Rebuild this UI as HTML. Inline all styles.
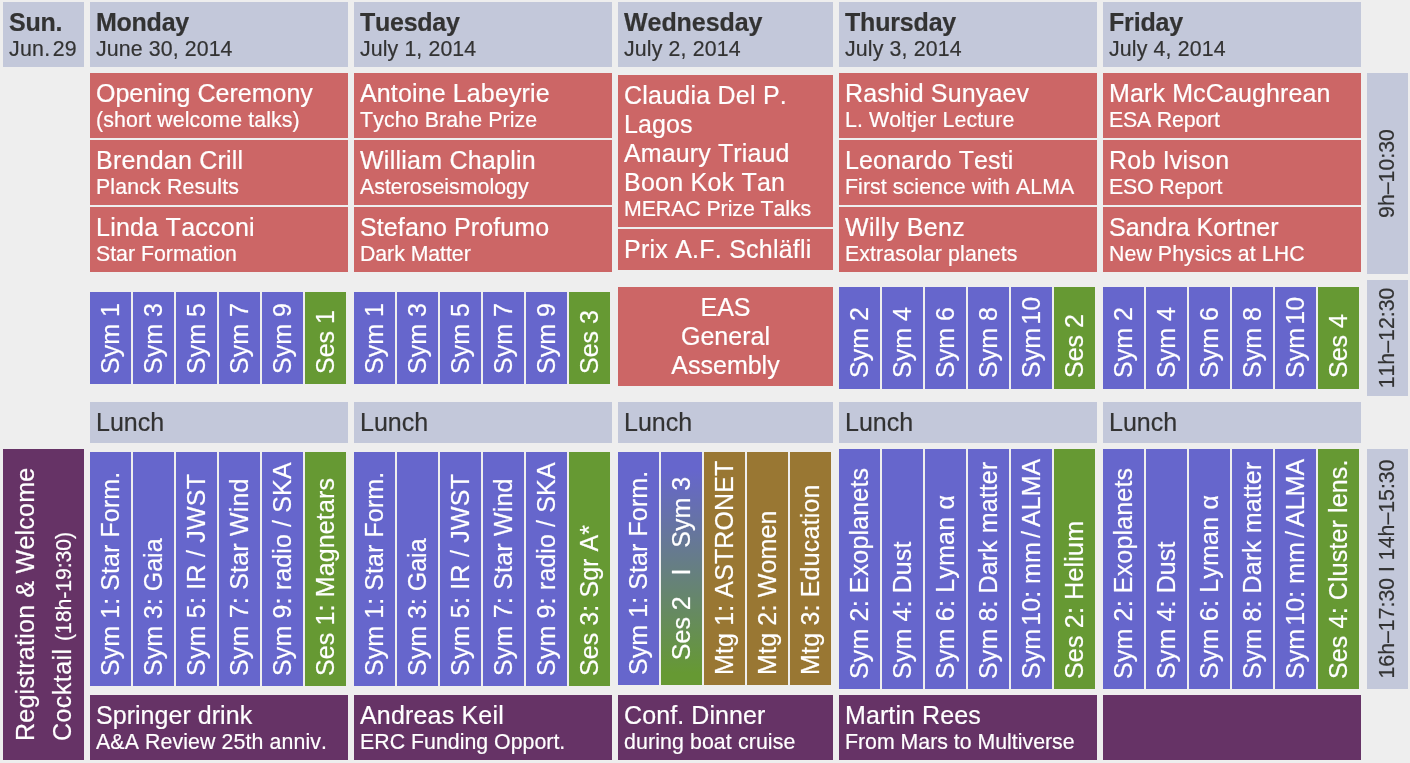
<!DOCTYPE html>
<html><head><meta charset="utf-8"><title>Programme</title>
<style>
html,body{margin:0;padding:0;}
body{width:1410px;height:763px;background:#EEEEEE;position:relative;overflow:hidden;font-family:"Liberation Sans",sans-serif;}
.b{position:absolute;}
.t{position:absolute;white-space:nowrap;font-kerning:none;-webkit-text-stroke:0.2px currentColor;}
#w{position:absolute;left:0;top:0;width:1410px;height:763px;overflow:hidden;will-change:transform;}
.v{transform-origin:0 0;}
.s1{word-spacing:-3.6px;}
.s2{word-spacing:-2.75px;}
</style></head><body><div id="w">
<div class="b" style="left:3px;top:2px;width:81px;height:65px;background:#C3C8DA;"></div>
<div class="t" style="left:9.00px;top:8px;font-size:25.0px;line-height:28px;color:#333333;letter-spacing:-0.25px;font-weight:bold;">Sun.</div>
<div class="t" style="left:9.00px;top:37px;font-size:21.3px;line-height:24px;color:#333333;letter-spacing:0.3px;word-spacing:-4.0px;">Jun. 29</div>
<div class="b" style="left:90px;top:2px;width:258px;height:65px;background:#C3C8DA;"></div>
<div class="t" style="left:96.00px;top:8px;font-size:25.0px;line-height:28px;color:#333333;letter-spacing:-0.25px;font-weight:bold;">Monday</div>
<div class="t" style="left:96.00px;top:37px;font-size:21.3px;line-height:24px;color:#333333;letter-spacing:0.12px;">June 30, 2014</div>
<div class="b" style="left:354px;top:2px;width:258px;height:65px;background:#C3C8DA;"></div>
<div class="t" style="left:360.00px;top:8px;font-size:25.0px;line-height:28px;color:#333333;letter-spacing:-0.25px;font-weight:bold;">Tuesday</div>
<div class="t" style="left:360.00px;top:37px;font-size:21.3px;line-height:24px;color:#333333;letter-spacing:0.12px;">July 1, 2014</div>
<div class="b" style="left:618px;top:2px;width:215px;height:65px;background:#C3C8DA;"></div>
<div class="t" style="left:624.00px;top:8px;font-size:25.0px;line-height:28px;color:#333333;letter-spacing:-0.06px;font-weight:bold;">Wednesday</div>
<div class="t" style="left:624.00px;top:37px;font-size:21.3px;line-height:24px;color:#333333;letter-spacing:0.15px;">July 2, 2014</div>
<div class="b" style="left:839px;top:2px;width:258px;height:65px;background:#C3C8DA;"></div>
<div class="t" style="left:845.00px;top:8px;font-size:25.0px;line-height:28px;color:#333333;letter-spacing:-0.18px;font-weight:bold;">Thursday</div>
<div class="t" style="left:845.00px;top:37px;font-size:21.3px;line-height:24px;color:#333333;letter-spacing:0.15px;">July 3, 2014</div>
<div class="b" style="left:1103px;top:2px;width:258px;height:65px;background:#C3C8DA;"></div>
<div class="t" style="left:1109.00px;top:8px;font-size:25.0px;line-height:28px;color:#333333;letter-spacing:-0.15px;font-weight:bold;">Friday</div>
<div class="t" style="left:1109.00px;top:37px;font-size:21.3px;line-height:24px;color:#333333;letter-spacing:0.15px;">July 4, 2014</div>
<div class="b" style="left:90px;top:73px;width:258px;height:65px;background:#CC6666;"></div>
<div class="t" style="left:96.00px;top:79px;font-size:25.0px;line-height:28px;color:#fff;letter-spacing:0px;">Opening Ceremony</div>
<div class="t" style="left:96.00px;top:108px;font-size:21.3px;line-height:24px;color:#fff;letter-spacing:0.125px;">(short welcome talks)</div>
<div class="b" style="left:90px;top:140px;width:258px;height:65px;background:#CC6666;"></div>
<div class="t" style="left:96.00px;top:146px;font-size:25.0px;line-height:28px;color:#fff;letter-spacing:0.21px;">Brendan Crill</div>
<div class="t" style="left:96.00px;top:175px;font-size:21.3px;line-height:24px;color:#fff;letter-spacing:0.154px;">Planck Results</div>
<div class="b" style="left:90px;top:207px;width:258px;height:65px;background:#CC6666;"></div>
<div class="t" style="left:96.00px;top:213px;font-size:25.0px;line-height:28px;color:#fff;letter-spacing:0.25px;">Linda Tacconi</div>
<div class="t" style="left:96.00px;top:242px;font-size:21.3px;line-height:24px;color:#fff;letter-spacing:0.0px;">Star Formation</div>
<div class="b" style="left:354px;top:73px;width:258px;height:65px;background:#CC6666;"></div>
<div class="t" style="left:360.00px;top:79px;font-size:25.0px;line-height:28px;color:#fff;letter-spacing:0.13px;">Antoine Labeyrie</div>
<div class="t" style="left:360.00px;top:108px;font-size:21.3px;line-height:24px;color:#fff;letter-spacing:0.125px;">Tycho Brahe Prize</div>
<div class="b" style="left:354px;top:140px;width:258px;height:65px;background:#CC6666;"></div>
<div class="t" style="left:360.00px;top:146px;font-size:25.0px;line-height:28px;color:#fff;letter-spacing:0.24px;">William Chaplin</div>
<div class="t" style="left:360.00px;top:175px;font-size:21.3px;line-height:24px;color:#fff;letter-spacing:0.033px;">Asteroseismology</div>
<div class="b" style="left:354px;top:207px;width:258px;height:65px;background:#CC6666;"></div>
<div class="t" style="left:360.00px;top:213px;font-size:25.0px;line-height:28px;color:#fff;letter-spacing:0.11px;">Stefano Profumo</div>
<div class="t" style="left:360.00px;top:242px;font-size:21.3px;line-height:24px;color:#fff;letter-spacing:-0.05px;">Dark Matter</div>
<div class="b" style="left:839px;top:73px;width:258px;height:65px;background:#CC6666;"></div>
<div class="t" style="left:845.00px;top:79px;font-size:25.0px;line-height:28px;color:#fff;letter-spacing:0.15px;">Rashid Sunyaev</div>
<div class="t" style="left:845.00px;top:108px;font-size:21.3px;line-height:24px;color:#fff;letter-spacing:0.147px;">L. Woltjer Lecture</div>
<div class="b" style="left:839px;top:140px;width:258px;height:65px;background:#CC6666;"></div>
<div class="t" style="left:845.00px;top:146px;font-size:25.0px;line-height:28px;color:#fff;letter-spacing:0.12px;">Leonardo Testi</div>
<div class="t" style="left:845.00px;top:175px;font-size:21.3px;line-height:24px;color:#fff;letter-spacing:0.09px;">First science with ALMA</div>
<div class="b" style="left:839px;top:207px;width:258px;height:65px;background:#CC6666;"></div>
<div class="t" style="left:845.00px;top:213px;font-size:25.0px;line-height:28px;color:#fff;letter-spacing:0.33px;">Willy Benz</div>
<div class="t" style="left:845.00px;top:242px;font-size:21.3px;line-height:24px;color:#fff;letter-spacing:0.118px;">Extrasolar planets</div>
<div class="b" style="left:1103px;top:73px;width:258px;height:65px;background:#CC6666;"></div>
<div class="t" style="left:1109.00px;top:79px;font-size:25.0px;line-height:28px;color:#fff;letter-spacing:0.13px;">Mark McCaughrean</div>
<div class="t" style="left:1109.00px;top:108px;font-size:21.3px;line-height:24px;color:#fff;letter-spacing:-0.167px;">ESA Report</div>
<div class="b" style="left:1103px;top:140px;width:258px;height:65px;background:#CC6666;"></div>
<div class="t" style="left:1109.00px;top:146px;font-size:25.0px;line-height:28px;color:#fff;letter-spacing:0.22px;">Rob Ivison</div>
<div class="t" style="left:1109.00px;top:175px;font-size:21.3px;line-height:24px;color:#fff;letter-spacing:-0.167px;">ESO Report</div>
<div class="b" style="left:1103px;top:207px;width:258px;height:65px;background:#CC6666;"></div>
<div class="t" style="left:1109.00px;top:213px;font-size:25.0px;line-height:28px;color:#fff;letter-spacing:0px;">Sandra Kortner</div>
<div class="t" style="left:1109.00px;top:242px;font-size:21.3px;line-height:24px;color:#fff;letter-spacing:0.088px;">New Physics at LHC</div>
<div class="b" style="left:618px;top:75px;width:215px;height:152px;background:#CC6666;"></div>
<div class="t" style="left:624.00px;top:81px;font-size:25.0px;line-height:28px;color:#fff;letter-spacing:0.23px;">Claudia Del P.</div>
<div class="t" style="left:624.00px;top:110px;font-size:25.0px;line-height:28px;color:#fff;letter-spacing:0.1px;">Lagos</div>
<div class="t" style="left:624.00px;top:139px;font-size:25.0px;line-height:28px;color:#fff;letter-spacing:0.12px;">Amaury Triaud</div>
<div class="t" style="left:624.00px;top:168px;font-size:25.0px;line-height:28px;color:#fff;letter-spacing:0.23px;">Boon Kok Tan</div>
<div class="t" style="left:624.00px;top:197px;font-size:21.3px;line-height:24px;color:#fff;letter-spacing:-0.06px;">MERAC Prize Talks</div>
<div class="b" style="left:618px;top:229px;width:215px;height:41px;background:#CC6666;"></div>
<div class="t" style="left:624.00px;top:235px;font-size:25.0px;line-height:28px;color:#fff;letter-spacing:0.235px;">Prix A.F. Schl&auml;fli</div>
<div class="b" style="left:618px;top:287px;width:215px;height:99px;background:#CC6666;"></div>
<div class="t" style="left:618px;width:215px;text-align:center;top:293px;font-size:25.0px;line-height:28px;color:#fff">EAS</div>
<div class="t" style="left:618px;width:215px;text-align:center;top:322px;font-size:25.0px;line-height:28px;color:#fff">General</div>
<div class="t" style="left:618px;width:215px;text-align:center;top:351px;font-size:25.0px;line-height:28px;color:#fff">Assembly</div>
<div class="b" style="left:1367px;top:73px;width:41px;height:201px;background:#C3C8DA;"></div>
<div class="t v" style="left:1394.30px;top:274.00px;width:201px;text-align:center;font-size:21.3px;line-height:24px;color:#333333;letter-spacing:0.0px;transform:rotate(-90deg) translateY(-19px);">9h&ndash;10:30</div>
<div class="b" style="left:1367px;top:280px;width:41px;height:116px;background:#C3C8DA;"></div>
<div class="t v" style="left:1394.30px;top:396.00px;width:116px;text-align:center;font-size:21.3px;line-height:24px;color:#333333;letter-spacing:0.0px;transform:rotate(-90deg) translateY(-19px);">11h&ndash;12:30</div>
<div class="b" style="left:1367px;top:449px;width:41px;height:240px;background:#C3C8DA;"></div>
<div class="t v" style="left:1394.30px;top:689.00px;width:240px;text-align:center;font-size:21.3px;line-height:24px;color:#333333;letter-spacing:0.0px;transform:rotate(-90deg) translateY(-19px);">16h&ndash;17:30 I 14h&ndash;15:30</div>
<div class="b" style="left:90px;top:292px;width:41px;height:92px;background:#6666CC;"></div>
<div class="t v" style="left:119.45px;top:374.00px;font-size:25.0px;line-height:28px;color:#fff;transform:rotate(-90deg) translateY(-23px);">Sym 1</div>
<div class="b" style="left:133px;top:292px;width:41px;height:92px;background:#6666CC;"></div>
<div class="t v" style="left:162.45px;top:374.00px;font-size:25.0px;line-height:28px;color:#fff;transform:rotate(-90deg) translateY(-23px);">Sym 3</div>
<div class="b" style="left:176px;top:292px;width:41px;height:92px;background:#6666CC;"></div>
<div class="t v" style="left:205.45px;top:374.00px;font-size:25.0px;line-height:28px;color:#fff;transform:rotate(-90deg) translateY(-23px);">Sym 5</div>
<div class="b" style="left:219px;top:292px;width:41px;height:92px;background:#6666CC;"></div>
<div class="t v" style="left:248.45px;top:374.00px;font-size:25.0px;line-height:28px;color:#fff;transform:rotate(-90deg) translateY(-23px);">Sym 7</div>
<div class="b" style="left:262px;top:292px;width:41px;height:92px;background:#6666CC;"></div>
<div class="t v" style="left:291.45px;top:374.00px;font-size:25.0px;line-height:28px;color:#fff;transform:rotate(-90deg) translateY(-23px);">Sym 9</div>
<div class="b" style="left:305px;top:292px;width:41px;height:92px;background:#669933;"></div>
<div class="t v" style="left:334.45px;top:374.00px;font-size:25.0px;line-height:28px;color:#fff;transform:rotate(-90deg) translateY(-23px);">Ses 1</div>
<div class="b" style="left:354px;top:292px;width:41px;height:92px;background:#6666CC;"></div>
<div class="t v" style="left:383.45px;top:374.00px;font-size:25.0px;line-height:28px;color:#fff;transform:rotate(-90deg) translateY(-23px);">Sym 1</div>
<div class="b" style="left:397px;top:292px;width:41px;height:92px;background:#6666CC;"></div>
<div class="t v" style="left:426.45px;top:374.00px;font-size:25.0px;line-height:28px;color:#fff;transform:rotate(-90deg) translateY(-23px);">Sym 3</div>
<div class="b" style="left:440px;top:292px;width:41px;height:92px;background:#6666CC;"></div>
<div class="t v" style="left:469.45px;top:374.00px;font-size:25.0px;line-height:28px;color:#fff;transform:rotate(-90deg) translateY(-23px);">Sym 5</div>
<div class="b" style="left:483px;top:292px;width:41px;height:92px;background:#6666CC;"></div>
<div class="t v" style="left:512.45px;top:374.00px;font-size:25.0px;line-height:28px;color:#fff;transform:rotate(-90deg) translateY(-23px);">Sym 7</div>
<div class="b" style="left:526px;top:292px;width:41px;height:92px;background:#6666CC;"></div>
<div class="t v" style="left:555.45px;top:374.00px;font-size:25.0px;line-height:28px;color:#fff;transform:rotate(-90deg) translateY(-23px);">Sym 9</div>
<div class="b" style="left:569px;top:292px;width:41px;height:92px;background:#669933;"></div>
<div class="t v" style="left:598.45px;top:374.00px;font-size:25.0px;line-height:28px;color:#fff;transform:rotate(-90deg) translateY(-23px);">Ses 3</div>
<div class="b" style="left:839px;top:287px;width:41px;height:102px;background:#6666CC;"></div>
<div class="t v" style="left:868.45px;top:378.00px;font-size:25.0px;line-height:28px;color:#fff;transform:rotate(-90deg) translateY(-23px);">Sym 2</div>
<div class="b" style="left:882px;top:287px;width:41px;height:102px;background:#6666CC;"></div>
<div class="t v" style="left:911.45px;top:378.00px;font-size:25.0px;line-height:28px;color:#fff;transform:rotate(-90deg) translateY(-23px);">Sym 4</div>
<div class="b" style="left:925px;top:287px;width:41px;height:102px;background:#6666CC;"></div>
<div class="t v" style="left:954.45px;top:378.00px;font-size:25.0px;line-height:28px;color:#fff;transform:rotate(-90deg) translateY(-23px);">Sym 6</div>
<div class="b" style="left:968px;top:287px;width:41px;height:102px;background:#6666CC;"></div>
<div class="t v" style="left:997.45px;top:378.00px;font-size:25.0px;line-height:28px;color:#fff;transform:rotate(-90deg) translateY(-23px);">Sym 8</div>
<div class="b" style="left:1011px;top:287px;width:41px;height:102px;background:#6666CC;"></div>
<div class="t v" style="left:1040.45px;top:378.00px;font-size:25.0px;line-height:28px;color:#fff;transform:rotate(-90deg) translateY(-23px);">Sym<span class="s1"> </span>10</div>
<div class="b" style="left:1054px;top:287px;width:41px;height:102px;background:#669933;"></div>
<div class="t v" style="left:1083.45px;top:378.00px;font-size:25.0px;line-height:28px;color:#fff;transform:rotate(-90deg) translateY(-23px);">Ses 2</div>
<div class="b" style="left:1103px;top:287px;width:41px;height:102px;background:#6666CC;"></div>
<div class="t v" style="left:1132.45px;top:378.00px;font-size:25.0px;line-height:28px;color:#fff;transform:rotate(-90deg) translateY(-23px);">Sym 2</div>
<div class="b" style="left:1146px;top:287px;width:41px;height:102px;background:#6666CC;"></div>
<div class="t v" style="left:1175.45px;top:378.00px;font-size:25.0px;line-height:28px;color:#fff;transform:rotate(-90deg) translateY(-23px);">Sym 4</div>
<div class="b" style="left:1189px;top:287px;width:41px;height:102px;background:#6666CC;"></div>
<div class="t v" style="left:1218.45px;top:378.00px;font-size:25.0px;line-height:28px;color:#fff;transform:rotate(-90deg) translateY(-23px);">Sym 6</div>
<div class="b" style="left:1232px;top:287px;width:41px;height:102px;background:#6666CC;"></div>
<div class="t v" style="left:1261.45px;top:378.00px;font-size:25.0px;line-height:28px;color:#fff;transform:rotate(-90deg) translateY(-23px);">Sym 8</div>
<div class="b" style="left:1275px;top:287px;width:41px;height:102px;background:#6666CC;"></div>
<div class="t v" style="left:1304.45px;top:378.00px;font-size:25.0px;line-height:28px;color:#fff;transform:rotate(-90deg) translateY(-23px);">Sym<span class="s1"> </span>10</div>
<div class="b" style="left:1318px;top:287px;width:41px;height:102px;background:#669933;"></div>
<div class="t v" style="left:1347.45px;top:378.00px;font-size:25.0px;line-height:28px;color:#fff;transform:rotate(-90deg) translateY(-23px);">Ses 4</div>
<div class="b" style="left:90px;top:402px;width:258px;height:41px;background:#C3C8DA;"></div>
<div class="t" style="left:96.00px;top:408px;font-size:25.0px;line-height:28px;color:#333333;">Lunch</div>
<div class="b" style="left:354px;top:402px;width:258px;height:41px;background:#C3C8DA;"></div>
<div class="t" style="left:360.00px;top:408px;font-size:25.0px;line-height:28px;color:#333333;">Lunch</div>
<div class="b" style="left:618px;top:402px;width:215px;height:41px;background:#C3C8DA;"></div>
<div class="t" style="left:624.00px;top:408px;font-size:25.0px;line-height:28px;color:#333333;">Lunch</div>
<div class="b" style="left:839px;top:402px;width:258px;height:41px;background:#C3C8DA;"></div>
<div class="t" style="left:845.00px;top:408px;font-size:25.0px;line-height:28px;color:#333333;">Lunch</div>
<div class="b" style="left:1103px;top:402px;width:258px;height:41px;background:#C3C8DA;"></div>
<div class="t" style="left:1109.00px;top:408px;font-size:25.0px;line-height:28px;color:#333333;">Lunch</div>
<div class="b" style="left:90px;top:452px;width:41px;height:234px;background:#6666CC;"></div>
<div class="t v" style="left:119.45px;top:676.00px;font-size:25.0px;line-height:28px;color:#fff;letter-spacing:0.08px;transform:rotate(-90deg) translateY(-23px);">Sym 1: Star Form.</div>
<div class="b" style="left:133px;top:452px;width:41px;height:234px;background:#6666CC;"></div>
<div class="t v" style="left:162.45px;top:676.00px;font-size:25.0px;line-height:28px;color:#fff;transform:rotate(-90deg) translateY(-23px);">Sym 3: Gaia</div>
<div class="b" style="left:176px;top:452px;width:41px;height:234px;background:#6666CC;"></div>
<div class="t v" style="left:205.45px;top:676.00px;font-size:25.0px;line-height:28px;color:#fff;letter-spacing:0.22px;transform:rotate(-90deg) translateY(-23px);">Sym 5: IR / JWST</div>
<div class="b" style="left:219px;top:452px;width:41px;height:234px;background:#6666CC;"></div>
<div class="t v" style="left:248.45px;top:676.00px;font-size:25.0px;line-height:28px;color:#fff;letter-spacing:0.2px;transform:rotate(-90deg) translateY(-23px);">Sym 7: Star Wind</div>
<div class="b" style="left:262px;top:452px;width:41px;height:234px;background:#6666CC;"></div>
<div class="t v" style="left:291.45px;top:676.00px;font-size:25.0px;line-height:28px;color:#fff;letter-spacing:0.14px;transform:rotate(-90deg) translateY(-23px);">Sym 9: radio / SKA</div>
<div class="b" style="left:305px;top:452px;width:41px;height:234px;background:#669933;"></div>
<div class="t v" style="left:334.45px;top:676.00px;font-size:25.0px;line-height:28px;color:#fff;letter-spacing:0.13px;transform:rotate(-90deg) translateY(-23px);">Ses 1: Magnetars</div>
<div class="b" style="left:354px;top:452px;width:41px;height:234px;background:#6666CC;"></div>
<div class="t v" style="left:383.45px;top:676.00px;font-size:25.0px;line-height:28px;color:#fff;letter-spacing:0.08px;transform:rotate(-90deg) translateY(-23px);">Sym 1: Star Form.</div>
<div class="b" style="left:397px;top:452px;width:41px;height:234px;background:#6666CC;"></div>
<div class="t v" style="left:426.45px;top:676.00px;font-size:25.0px;line-height:28px;color:#fff;transform:rotate(-90deg) translateY(-23px);">Sym 3: Gaia</div>
<div class="b" style="left:440px;top:452px;width:41px;height:234px;background:#6666CC;"></div>
<div class="t v" style="left:469.45px;top:676.00px;font-size:25.0px;line-height:28px;color:#fff;letter-spacing:0.22px;transform:rotate(-90deg) translateY(-23px);">Sym 5: IR / JWST</div>
<div class="b" style="left:483px;top:452px;width:41px;height:234px;background:#6666CC;"></div>
<div class="t v" style="left:512.45px;top:676.00px;font-size:25.0px;line-height:28px;color:#fff;letter-spacing:0.2px;transform:rotate(-90deg) translateY(-23px);">Sym 7: Star Wind</div>
<div class="b" style="left:526px;top:452px;width:41px;height:234px;background:#6666CC;"></div>
<div class="t v" style="left:555.45px;top:676.00px;font-size:25.0px;line-height:28px;color:#fff;letter-spacing:0.14px;transform:rotate(-90deg) translateY(-23px);">Sym 9: radio / SKA</div>
<div class="b" style="left:569px;top:452px;width:41px;height:234px;background:#669933;"></div>
<div class="t v" style="left:598.45px;top:676.00px;font-size:25.0px;line-height:28px;color:#fff;letter-spacing:0.08px;transform:rotate(-90deg) translateY(-23px);">Ses 3: Sgr A*</div>
<div class="b" style="left:839px;top:449px;width:41px;height:240px;background:#6666CC;"></div>
<div class="t v" style="left:868.45px;top:679.00px;font-size:25.0px;line-height:28px;color:#fff;letter-spacing:0.16px;transform:rotate(-90deg) translateY(-23px);">Sym 2: Exoplanets</div>
<div class="b" style="left:882px;top:449px;width:41px;height:240px;background:#6666CC;"></div>
<div class="t v" style="left:911.45px;top:679.00px;font-size:25.0px;line-height:28px;color:#fff;letter-spacing:0.13px;transform:rotate(-90deg) translateY(-23px);">Sym 4: Dust</div>
<div class="b" style="left:925px;top:449px;width:41px;height:240px;background:#6666CC;"></div>
<div class="t v" style="left:954.45px;top:679.00px;font-size:25.0px;line-height:28px;color:#fff;letter-spacing:0.21px;transform:rotate(-90deg) translateY(-23px);">Sym 6: Lyman &alpha;</div>
<div class="b" style="left:968px;top:449px;width:41px;height:240px;background:#6666CC;"></div>
<div class="t v" style="left:997.45px;top:679.00px;font-size:25.0px;line-height:28px;color:#fff;letter-spacing:0.11px;transform:rotate(-90deg) translateY(-23px);">Sym 8: Dark matter</div>
<div class="b" style="left:1011px;top:449px;width:41px;height:240px;background:#6666CC;"></div>
<div class="t v" style="left:1040.45px;top:679.00px;font-size:25.0px;line-height:28px;color:#fff;transform:rotate(-90deg) translateY(-23px);">Sym<span class="s1"> </span>10: mm<span class="s2"> </span>/<span class="s2"> </span>ALMA</div>
<div class="b" style="left:1054px;top:449px;width:41px;height:240px;background:#669933;"></div>
<div class="t v" style="left:1083.45px;top:679.00px;font-size:25.0px;line-height:28px;color:#fff;letter-spacing:0.2px;transform:rotate(-90deg) translateY(-23px);">Ses 2: Helium</div>
<div class="b" style="left:1103px;top:449px;width:41px;height:240px;background:#6666CC;"></div>
<div class="t v" style="left:1132.45px;top:679.00px;font-size:25.0px;line-height:28px;color:#fff;letter-spacing:0.16px;transform:rotate(-90deg) translateY(-23px);">Sym 2: Exoplanets</div>
<div class="b" style="left:1146px;top:449px;width:41px;height:240px;background:#6666CC;"></div>
<div class="t v" style="left:1175.45px;top:679.00px;font-size:25.0px;line-height:28px;color:#fff;letter-spacing:0.13px;transform:rotate(-90deg) translateY(-23px);">Sym 4: Dust</div>
<div class="b" style="left:1189px;top:449px;width:41px;height:240px;background:#6666CC;"></div>
<div class="t v" style="left:1218.45px;top:679.00px;font-size:25.0px;line-height:28px;color:#fff;letter-spacing:0.21px;transform:rotate(-90deg) translateY(-23px);">Sym 6: Lyman &alpha;</div>
<div class="b" style="left:1232px;top:449px;width:41px;height:240px;background:#6666CC;"></div>
<div class="t v" style="left:1261.45px;top:679.00px;font-size:25.0px;line-height:28px;color:#fff;letter-spacing:0.11px;transform:rotate(-90deg) translateY(-23px);">Sym 8: Dark matter</div>
<div class="b" style="left:1275px;top:449px;width:41px;height:240px;background:#6666CC;"></div>
<div class="t v" style="left:1304.45px;top:679.00px;font-size:25.0px;line-height:28px;color:#fff;transform:rotate(-90deg) translateY(-23px);">Sym<span class="s1"> </span>10: mm<span class="s2"> </span>/<span class="s2"> </span>ALMA</div>
<div class="b" style="left:1318px;top:449px;width:41px;height:240px;background:#669933;"></div>
<div class="t v" style="left:1347.45px;top:679.00px;font-size:25.0px;line-height:28px;color:#fff;letter-spacing:0.14px;transform:rotate(-90deg) translateY(-23px);">Ses 4: Cluster lens.</div>
<div class="b" style="left:618px;top:452px;width:41px;height:233px;background:#6666CC;"></div>
<div class="t v" style="left:647.45px;top:675.00px;font-size:25.0px;line-height:28px;color:#fff;letter-spacing:0.08px;transform:rotate(-90deg) translateY(-23px);">Sym 1: Star Form.</div>
<div class="b" style="left:661px;top:452px;width:41px;height:233px;background:#6666CC;background:linear-gradient(to bottom,#6666CC 8%,#669933 95%);"></div>
<div class="t v" style="left:690.45px;top:685.00px;width:233px;text-align:center;font-size:25.0px;line-height:28px;color:#fff;transform:rotate(-90deg) translateY(-23px);white-space:pre;">Ses 2   I   Sym 3</div>
<div class="b" style="left:704px;top:452px;width:41px;height:233px;background:#997733;"></div>
<div class="t v" style="left:733.45px;top:675.00px;font-size:25.0px;line-height:28px;color:#fff;letter-spacing:0.13px;transform:rotate(-90deg) translateY(-23px);">Mtg 1: ASTRONET</div>
<div class="b" style="left:747px;top:452px;width:41px;height:233px;background:#997733;"></div>
<div class="t v" style="left:776.45px;top:675.00px;font-size:25.0px;line-height:28px;color:#fff;letter-spacing:0.18px;transform:rotate(-90deg) translateY(-23px);">Mtg 2: Women</div>
<div class="b" style="left:790px;top:452px;width:41px;height:233px;background:#997733;"></div>
<div class="t v" style="left:819.45px;top:675.00px;font-size:25.0px;line-height:28px;color:#fff;letter-spacing:0.19px;transform:rotate(-90deg) translateY(-23px);">Mtg 3: Education</div>
<div class="b" style="left:3px;top:449px;width:81px;height:311px;background:#663366;"></div>
<div class="t v" style="left:33.50px;top:740.60px;font-size:25.0px;line-height:28px;color:#fff;letter-spacing:0.24px;transform:rotate(-90deg) translateY(-23px);">Registration &amp; Welcome</div>
<div class="t v" style="left:71.00px;top:740.60px;font-size:25.0px;line-height:28px;color:#fff;transform:rotate(-90deg) translateY(-23px);letter-spacing:.45px;">Cocktail <span style="font-size:21.3px;letter-spacing:-0.1px">(18h-19:30)</span></div>
<div class="b" style="left:90px;top:695px;width:258px;height:65px;background:#663366;"></div>
<div class="t" style="left:96.00px;top:701px;font-size:25.0px;line-height:28px;color:#fff;letter-spacing:0.04px;">Springer drink</div>
<div class="t" style="left:96.00px;top:730px;font-size:21.3px;line-height:24px;color:#fff;letter-spacing:0.119px;">A&amp;A Review 25th anniv.</div>
<div class="b" style="left:354px;top:695px;width:258px;height:65px;background:#663366;"></div>
<div class="t" style="left:360.00px;top:701px;font-size:25.0px;line-height:28px;color:#fff;letter-spacing:0.18px;">Andreas Keil</div>
<div class="t" style="left:360.00px;top:730px;font-size:21.3px;line-height:24px;color:#fff;letter-spacing:0.028px;">ERC Funding Opport.</div>
<div class="b" style="left:618px;top:695px;width:215px;height:65px;background:#663366;"></div>
<div class="t" style="left:624.00px;top:701px;font-size:25.0px;line-height:28px;color:#fff;letter-spacing:0.09px;">Conf. Dinner</div>
<div class="t" style="left:624.00px;top:730px;font-size:21.3px;line-height:24px;color:#fff;letter-spacing:0.118px;">during boat cruise</div>
<div class="b" style="left:839px;top:695px;width:258px;height:65px;background:#663366;"></div>
<div class="t" style="left:845.00px;top:701px;font-size:25.0px;line-height:28px;color:#fff;letter-spacing:0.1px;">Martin Rees</div>
<div class="t" style="left:845.00px;top:730px;font-size:21.3px;line-height:24px;color:#fff;letter-spacing:0.0px;">From Mars to Multiverse</div>
<div class="b" style="left:1103px;top:695px;width:258px;height:65px;background:#663366;"></div>
</div></body></html>
